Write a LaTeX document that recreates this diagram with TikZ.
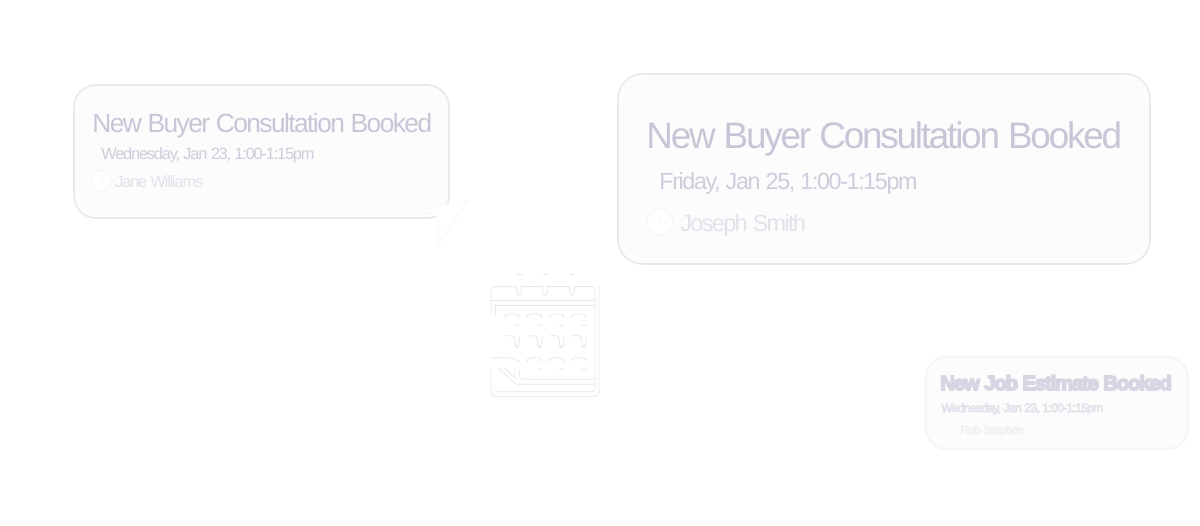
\documentclass[tikz,border=0pt]{standalone}
\usepackage{fontspec}
\setmainfont{Liberation Sans}
\newfontfamily\cardfont[LetterSpace=-6]{Liberation Sans}
\newfontfamily\tightfont[LetterSpace=-7.2]{Liberation Sans}
\newcommand{\smeared}[3]{\special{pdf:code 2 Tr #1 w #2 RG}#3\special{pdf:code 0 Tr 0 w}}
\definecolor{titlecol}{HTML}{C6C6D7}
\definecolor{datecol}{HTML}{CDCDDB}
\definecolor{namecol}{HTML}{E2E2EA}
\definecolor{softtitle}{HTML}{D6D6E3}
\definecolor{softdate}{HTML}{E2E2EA}
\definecolor{softname}{HTML}{F0F0F4}
\definecolor{cardfill}{HTML}{FCFCFD}
\definecolor{cardline}{HTML}{E9E9ED}
\definecolor{iconline}{HTML}{E6E6E6}
\definecolor{softline}{HTML}{F6F6F8}
\tikzset{
  card/.style={draw=cardline, fill=cardfill, line width=0.9pt},
  softcard/.style={draw=softline, fill=cardfill, line width=1.3pt},
  label/.style={anchor=base west, inner sep=0pt, font=\cardfont},
  smalllabel/.style={anchor=base west, inner sep=0pt, font=\tightfont},
  iconstroke/.style={draw=iconline, line width=0.4pt, line cap=round, line join=round},
  clockstroke/.style={draw=softline, fill=white, line width=0.5pt}
}
\begin{document}
\begin{tikzpicture}[x=0.02cm, y=-0.02cm]
  \useasboundingbox (0,0) rectangle (1200,525);
  \fill[white] (0,0) rectangle (1200,525);

  \draw[card, rounded corners=12.5pt] (74,85) rectangle (449,218);
  \node[label, text=titlecol] (titlea) at (92,132) {\fontsize{15}{15}\selectfont New Buyer Consultation Booked};
  \node[smalllabel, text=datecol] (datea) at (101,159) {\fontsize{9.3}{10}\selectfont Wednesday, Jan 23, 1:00-1:15pm};
  \node[smalllabel, text=namecol] (namea) at (115,187) {\fontsize{9.3}{10}\selectfont Jane Williams};
  \node[circle, clockstroke, minimum size=0.4cm, inner sep=0pt] (clocka) at (101,181) {};
  \draw[clockstroke] (101,174) -- (101,181) -- (107,181);

  \draw[card, rounded corners=14pt] (618,74) rectangle (1150,264);
  \node[label, text=titlecol] (titleb) at (646,148) {\fontsize{21}{21}\selectfont New Buyer Consultation Booked};
  \node[label, text=datecol] (dateb) at (659,189) {\fontsize{13.3}{14}\selectfont Friday, Jan 25, 1:00-1:15pm};
  \node[smalllabel, text=namecol] (nameb) at (680,231) {\fontsize{13.4}{14}\selectfont Joseph Smith};
  \node[circle, clockstroke, minimum size=0.52cm, inner sep=0pt] (clockb) at (660,222) {};
  \draw[clockstroke] (660,213) -- (660,222) -- (668,222);

  \draw[softcard, rounded corners=12pt] (926,357) rectangle (1188,449);
  \node[label, text=softtitle] (titlec) at (940,390) {\fontsize{11.6}{12}\selectfont\bfseries\smeared{0.9}{0.84 0.84 0.89}{New Job Estimate Booked}};
  \node[label, text=softdate] (datec) at (941,412) {\fontsize{6.9}{7}\selectfont\smeared{0.45}{0.89 0.89 0.92}{Wednesday, Jan 23, 1:00-1:15pm}};
  \node[label, text=softname] (namec) at (960,434) {\fontsize{6.8}{7}\selectfont\smeared{0.4}{0.94 0.94 0.96}{Rob Stephen}};

  \draw[draw=softline, fill=white, line width=0.4pt, line join=round] (468,200) -- (420,210) -- (438,217) -- (438,245) -- cycle;

  \begin{scope}[shift={(480,265)}, x=0.00667cm, y=-0.00667cm]
    \foreach \x in {112,190,270} {
      \draw[iconstroke] (\x,27) -- (\x+13,27);
      \draw[iconstroke, rounded corners=2pt] (\x-2,65) -- (\x-2,90) -- (\x+13,90) -- (\x+13,65);
    }
    \draw[iconstroke, rounded corners=2pt] (33,150) -- (33,65) -- (110,65);
    \draw[iconstroke] (125,65) -- (188,65) (203,65) -- (268,65) (283,65) -- (335,65);
    \draw[iconstroke] (33,105) -- (345,105) (45,122) -- (345,122);
    \draw[iconstroke, rounded corners=2pt] (335,65) -- (345,65) -- (345,380) -- (45,380);
    \draw[iconstroke, rounded corners=3pt] (357,60) -- (357,395) -- (33,395) -- (33,310);
    \draw[iconstroke] (45,122) -- (45,150);
    \foreach \x in {75,142,208,275} {
      \draw[iconstroke, rounded corners=2pt] (\x,152) -- (\x,147) -- (\x+43,147) -- (\x+43,152);
      \draw[iconstroke, rounded corners=2pt] (\x+30,180) -- (\x+36,187) -- (\x+43,180);
      \draw[iconstroke, rounded corners=2pt] (\x+3,212) -- (\x+30,212) -- (\x+30,240) -- (\x+36,250) -- (\x+43,240) -- (\x+43,217);
    }
    \foreach \x in {142,208,275} {
      \draw[iconstroke, rounded corners=2pt] (\x,283) -- (\x,278) -- (\x+43,278) -- (\x+43,283);
      \draw[iconstroke, rounded corners=2pt] (\x+30,311) -- (\x+36,319) -- (\x+43,311);
    }
    \draw[iconstroke, rounded corners=2pt] (33,278) -- (100,278) -- (118,290);
    \draw[iconstroke, rounded corners=2pt] (118,315) -- (118,343) -- (345,343);
    \draw[iconstroke] (55,310) -- (108,358) -- (345,358) (75,310) -- (105,340) -- (105,312);
  \end{scope}
\end{tikzpicture}
\end{document}
